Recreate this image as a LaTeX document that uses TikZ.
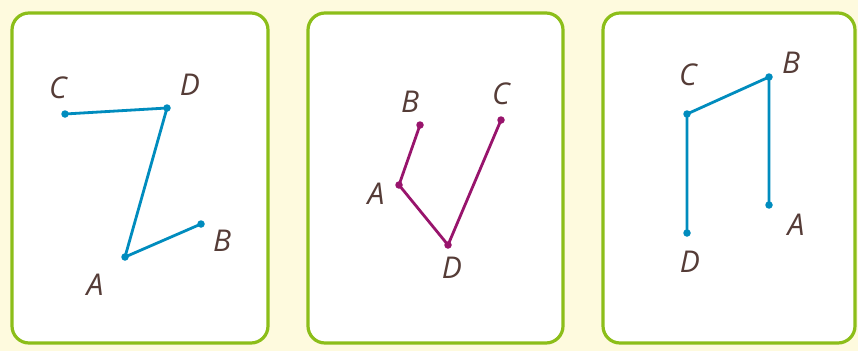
\documentclass[tikz,border=0pt]{standalone}
\usepackage{fontspec}
\setmainfont{Open Sans}
\usepackage{tikz}
\usetikzlibrary{positioning, calc}
\definecolor{cardgreen}{RGB}{140,190,25}
\definecolor{paleyellow}{RGB}{254,250,222}
\definecolor{segblue}{RGB}{0,140,190}
\definecolor{segplum}{RGB}{152,20,108}
\definecolor{labelbrown}{RGB}{85,60,55}

\begin{document}
\begin{tikzpicture}[
    x=1pt, y=-1pt,
    card/.style={draw=cardgreen, line width=3.2pt, fill=white, rounded corners=17pt},
    seg/.style={line width=2.8pt, line cap=round},
    dot/.style={circle, fill, inner sep=0pt, minimum size=7.5pt},
    ptlabel/.style={text=labelbrown, font=\fontsize{30}{32}\selectfont\itshape, inner sep=0pt}
]
%% Background
\fill[paleyellow] (0,0) rectangle (858,351);
\useasboundingbox (0,0) rectangle (858,351);
%% Cards
\draw[card] (12,13) rectangle (268,343);
\draw[card] (308,13) rectangle (563,343);
\draw[card] (603,13) rectangle (855,343);
%% Left card: C-D-A-B
\foreach \p/\xp/\yp in {C/65/114, D/167/108, A/125/257, B/201/224}
    \coordinate (l\p) at (\xp,\yp);
\draw[seg, segblue] (lC) -- (lD) -- (lA) -- (lB);
\foreach \p in {C,D,A,B}
    \node[dot, segblue] (ldot\p) at (l\p) {};
\node[ptlabel] (lCtxt) at (58,88) {C};
\node[ptlabel] (lDtxt) at (190,85) {D};
\node[ptlabel] (lBtxt) at (222,241) {B};
\node[ptlabel] (lAtxt) at (95,285) {A};
%% Middle card: B-A-D-C
\foreach \p/\xp/\yp in {B/420/125, A/399/185, D/448/245, C/501/120}
    \coordinate (m\p) at (\xp,\yp);
\draw[seg, segplum] (mB) -- (mA) -- (mD) -- (mC);
\foreach \p in {B,A,D,C}
    \node[dot, segplum] (mdot\p) at (m\p) {};
\node[ptlabel] (mBtxt) at (410,102) {B};
\node[ptlabel] (mCtxt) at (501,94) {C};
\node[ptlabel] (mAtxt) at (376,194) {A};
\node[ptlabel] (mDtxt) at (452,268) {D};
%% Right card: D-C-B-A
\foreach \p/\xp/\yp in {D/687/233, C/687/114, B/769/77, A/769/205}
    \coordinate (r\p) at (\xp,\yp);
\draw[seg, segblue] (rD) -- (rC) -- (rB) -- (rA);
\foreach \p in {D,C,B,A}
    \node[dot, segblue] (rdot\p) at (r\p) {};
\node[ptlabel] (rCtxt) at (688,75) {C};
\node[ptlabel] (rBtxt) at (791,63) {B};
\node[ptlabel] (rAtxt) at (796,225) {A};
\node[ptlabel] (rDtxt) at (690,262) {D};
\end{tikzpicture}
\end{document}
